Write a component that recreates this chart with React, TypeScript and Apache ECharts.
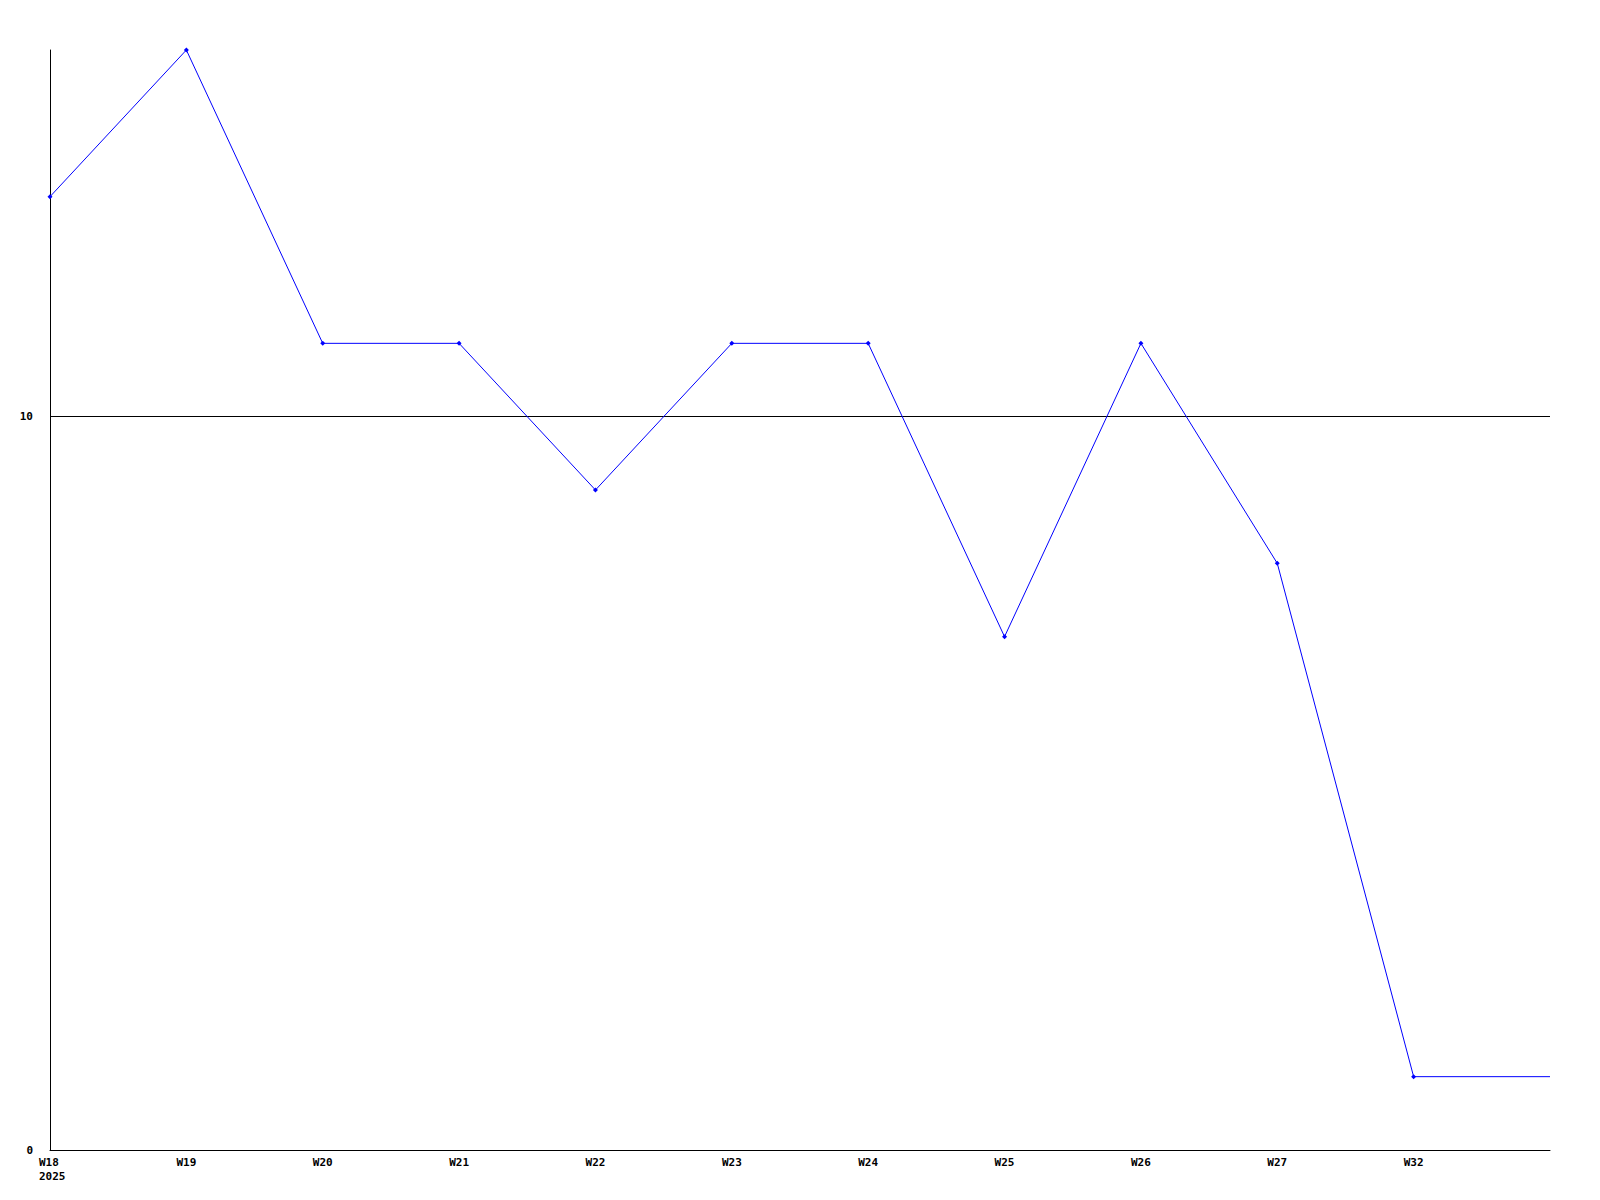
import React, { useEffect, useRef } from "react";
import * as echarts from "echarts";

const categories = ["W18\n2025", "W19", "W20", "W21", "W22", "W23", "W24", "W25", "W26", "W27", "W32", ""];
const values = [13, 15, 11, 11, 9, 11, 11, 7, 11, 8, 1, 1];
const yMin = 0;
const yMax = 15;
const yInterval = 10;

export default function App() {
  const ref = useRef<HTMLDivElement>(null);
  useEffect(() => {
    if (!ref.current) return;
    const chart = echarts.init(ref.current, null, { renderer: "svg" });
    const font = { fontFamily: "DejaVu Sans Mono", fontWeight: "bold" as const, fontSize: 11, color: "#000" };
    const seriesData = values.map((v, i) =>
      i === values.length - 1 ? { value: v, symbol: "none" } : v
    );
    chart.setOption({
      animation: false,
      backgroundColor: "#fff",
      grid: { left: 50, right: 50, top: 50, bottom: 50 },
      xAxis: {
        type: "category",
        data: categories,
        boundaryGap: false,
        axisLine: { lineStyle: { color: "#000", width: 1 } },
        axisTick: { show: false },
        axisLabel: {
          ...font,
          margin: 5,
          lineHeight: 14,
          interval: 0,
          align: "center",
          formatter: (v: string) =>
            v.includes("\n") ? v.split("\n").map((s) => `{l|${s}}`).join("\n") : v,
          rich: {
            l: { ...font, lineHeight: 14, width: 28, align: "left", padding: [0, 0, 0, 6] },
          },
        },
        splitLine: { show: false },
      },
      yAxis: {
        type: "value",
        min: yMin,
        max: yMax,
        interval: yInterval,
        axisLine: { show: true, lineStyle: { color: "#000", width: 1 } },
        axisTick: { show: false },
        axisLabel: { ...font, margin: 17, showMaxLabel: false },
        splitLine: { show: true, showMinLine: false, showMaxLine: false, lineStyle: { color: "#000", width: 1 } },
      },
      series: [
        {
          type: "line",
          data: seriesData,
          symbol: "diamond",
          symbolSize: 5,
          showAllSymbol: true,
          lineStyle: { color: "#0000ff", width: 1 },
          itemStyle: { color: "#0000ff" },
        },
      ],
    });
    return () => chart.dispose();
  }, []);
  return <div ref={ref} style={{ position: "fixed", left: 0, top: 0, width: 1600, height: 1200 }} />;
}
